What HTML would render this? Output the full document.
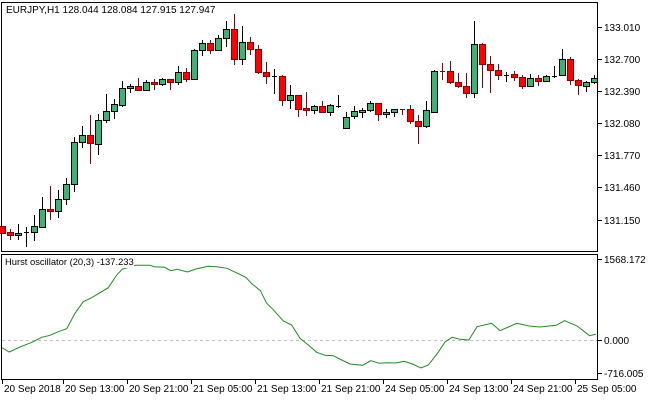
<!DOCTYPE html>
<html><head><meta charset="utf-8"><style>
html,body{margin:0;padding:0;background:#fff;width:650px;height:400px;overflow:hidden}
svg{display:block}
text{font-family:"Liberation Sans",sans-serif;font-size:10px;fill:#000}
</style></head><body>
<svg id="s" width="650" height="400" xmlns="http://www.w3.org/2000/svg">
<rect x="0" y="0" width="650" height="400" fill="#fff"/>
<rect x="1.5" y="2.5" width="596" height="249" fill="none" stroke="#000"/>
<rect x="1.5" y="254.5" width="596" height="125" fill="none" stroke="#000"/>
<line x1="2" y1="340.5" x2="597" y2="340.5" stroke="#c0c0c0" stroke-dasharray="3,3"/>
<g id="c"></g>
<polyline id="h" fill="none" stroke="#228b22" stroke-width="1"/>
<text x="6" y="13">EURJPY,H1  128.044 128.084 127.915 127.947</text>
<rect x="3" y="256" width="131" height="12" fill="#fff"/>
<text x="5" y="265" style="font-size:9.4px">Hurst oscillator (20,3) -137.233</text>
<g id="ax"></g>
</svg>
<script>
var C=[
['r',226,233,226,233],['r',232,235,229,239],['g',233,235,224,239],['d',232,233,227,246],['g',226,232,215,240],
['g',209,227,197,227],['r',209,211,186,219],['g',199,211,190,217],['g',184,199,178,204],['g',142,184,137,191],
['g',135,142,126,147],['r',135,143,115,163],['g',120,144,114,154],['g',111,120,94,122],['g',104,111,99,118],
['g',88,105,81,106],['g',86,88,84,92],['r',86,90,78,90],['g',82,90,80,90],['r',82,84,79,89],
['g',79,84,78,85],['r',79,82,79,89],['g',72,82,66,84],['r',72,79,68,81],['g',50,79,49,79],
['g',43,50,40,55],['r',43,50,40,53],['g',38,50,35,50],['g',29,38,21,46],['r',29,59,14,64],
['g',42,59,26,64],['r',42,49,37,54],['r',49,72,45,73],['r',72,76,62,83],['d',76,76,69,93],
['r',76,100,75,105],['g',95,100,85,108],['r',95,109,95,116],['r',108,110,92,115],['g',106,110,105,113],
['r',106,112,101,112],['g',105,112,104,115],['d',106,106,95,107],['g',117,128,112,128],['g',111,116,106,118],
['g',110,112,108,117],['g',103,110,101,111],['r',103,114,103,120],['g',112,114,109,117],['g',109,112,109,116],
['rd',109,109,109,114],['r',109,121,105,123],['r',121,126,115,143],['g',110,126,101,127],['g',71,112,70,112],
['rd',71,71,63,79],['r',71,82,61,83],['r',82,86,73,87],['r',86,93,73,97],['g',44,93,21,97],
['r',44,64,43,87],['r',64,70,56,92],['r',70,75,64,79],['d',75,75,72,81],['r',74,77,71,80],
['r',77,86,75,88],['g',78,86,74,86],['r',78,81,75,85],['g',76,81,75,81],['d',76,76,66,77],
['g',59,75,49,75],['r',59,80,57,84],['r',80,85,79,94],['g',82,86,81,91],['g',78,82,75,83]];
var g='';
C.forEach(function(c,i){var x=Math.round(2.3+8*i);var t=c[0];
var wc=(t=='r'||t=='rd')?'#8b0000':'#000';
g+='<line x1="'+(x+.5)+'" y1="'+c[3]+'" x2="'+(x+.5)+'" y2="'+(c[4]+1)+'" stroke="'+wc+'"/>';
if(t=='d'||t=='rd'){g+='<line x1="'+(x-2)+'" y1="'+(c[1]+.5)+'" x2="'+(x+3)+'" y2="'+(c[1]+.5)+'" stroke="'+wc+'"/>';}
else{var f=t=='g'?'#3cb371':'#ff0000',s=t=='g'?'#000':'#8b0000';
g+='<rect x="'+(x-2.5)+'" y="'+(c[1]+.5)+'" width="6" height="'+Math.max(1,c[2]-c[1])+'" fill="'+f+'" stroke="'+s+'"/>';}
});
document.getElementById('c').innerHTML=g;
var P=[[5,293],[22,306],[50,290],[80,275],[100,262],[120,256],[140,245],[160,236],[180,190],[200,155],[220,143],[240,128],[260,113],[280,75],[293,58],[325,46],[360,46],[370,50],[395,52],[410,62],[425,58],[450,66],[470,57],[500,49],[520,50],[545,55],[570,70],[590,82],[605,102],[625,122],[640,160],[655,178],[680,213],[700,225],[720,265],[740,285],[760,307],[780,316],[800,317],[820,330],[840,342],[870,346],[890,332],[910,340],[930,338],[950,339],[970,334],[990,342],[1010,354],[1028,345],[1050,310],[1068,276],[1085,262],[1105,268],[1125,270],[1145,230],[1180,220],[1200,242],[1240,220],[1270,228],[1295,231],[1335,226],[1355,212],[1385,228],[1415,257],[1430,253]];
document.getElementById('h').setAttribute('points',P.map(function(p){return (p[0]/2.4).toFixed(1)+','+(250+p[1]/3).toFixed(1)}).join(' '));
var a='';
var pr=[['133.010',27],['132.700',59],['132.390',91],['132.080',123],['131.770',155],['131.460',187],['131.150',220]];
pr.forEach(function(p){a+='<line x1="598" y1="'+(p[1]+.5)+'" x2="602" y2="'+(p[1]+.5)+'" stroke="#000"/><text x="604" y="'+(p[1]+4)+'">'+p[0]+'</text>'});
[['1568.172',259],['0.000',340],['-716.005',373]].forEach(function(p){a+='<line x1="598" y1="'+(p[1]+.5)+'" x2="602" y2="'+(p[1]+.5)+'" stroke="#000"/><text x="604" y="'+(p[1]+4)+'">'+p[0]+'</text>'});
var T=['20 Sep 2018','20 Sep 13:00','20 Sep 21:00','21 Sep 05:00','21 Sep 13:00','21 Sep 21:00','24 Sep 05:00','24 Sep 13:00','24 Sep 21:00','25 Sep 05:00'];
T.forEach(function(t,i){var x=i==0?2:(-1+64*i);a+='<line x1="'+(x+.5)+'" y1="380" x2="'+(x+.5)+'" y2="384" stroke="#000"/><text x="'+(x+2)+'" y="392">'+t+'</text>'});
document.getElementById('ax').innerHTML=a;
</script>
</body></html>
